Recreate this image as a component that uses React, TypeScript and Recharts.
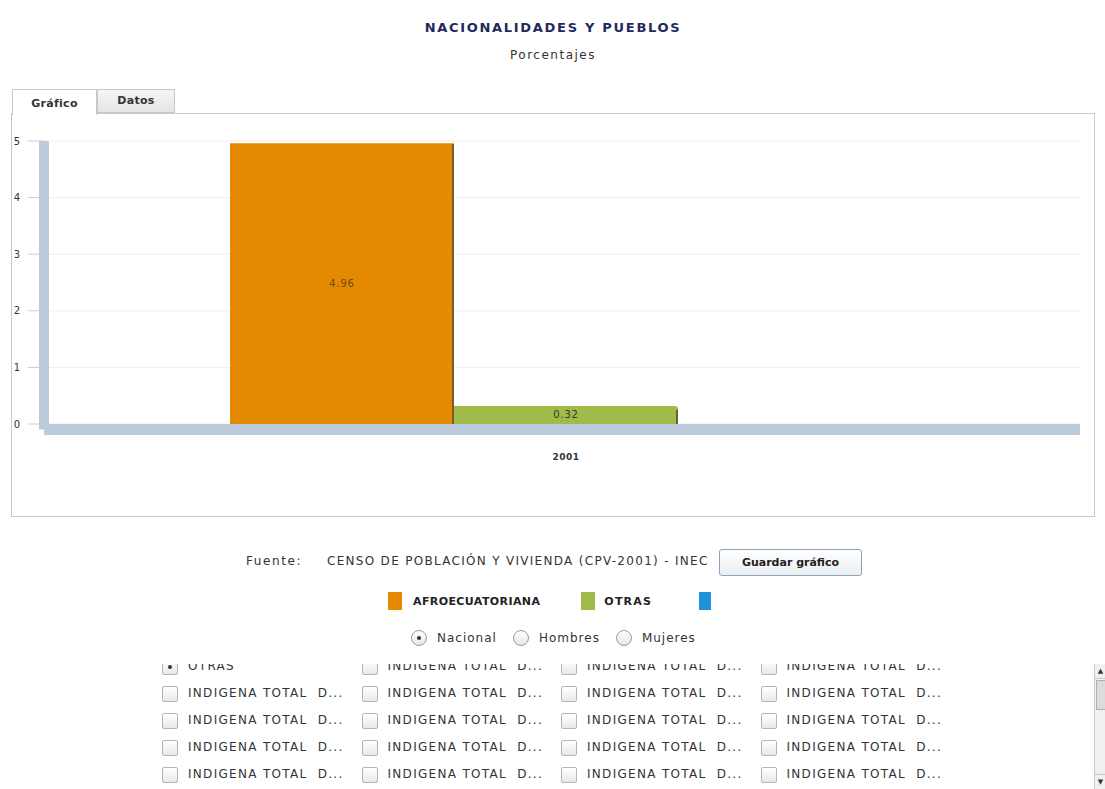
import React from 'react';
import { BarChart, Bar, XAxis, YAxis, CartesianGrid, LabelList } from 'recharts';

const categories = ['2001'];
const afroValues = [4.96];
const otrasValues = [0.32];
const terceraValues = [0];
const yTicks = [0, 1, 2, 3, 4, 5];

const seriesNames = ['AFROECUATORIANA', 'OTRAS', ''];
const seriesColors = ['#e38a00', '#a0bb48', '#1f90dc'];
const seriesEdges = ['#7d5a2a', '#5d6b30', '#1a5f90'];

const checkRows = [
  ['OTRAS', 'INDIGENA TOTAL  D...', 'INDIGENA TOTAL  D...', 'INDIGENA TOTAL  D...'],
  ['INDIGENA TOTAL  D...', 'INDIGENA TOTAL  D...', 'INDIGENA TOTAL  D...', 'INDIGENA TOTAL  D...'],
  ['INDIGENA TOTAL  D...', 'INDIGENA TOTAL  D...', 'INDIGENA TOTAL  D...', 'INDIGENA TOTAL  D...'],
  ['INDIGENA TOTAL  D...', 'INDIGENA TOTAL  D...', 'INDIGENA TOTAL  D...', 'INDIGENA TOTAL  D...'],
  ['INDIGENA TOTAL  D...', 'INDIGENA TOTAL  D...', 'INDIGENA TOTAL  D...', 'INDIGENA TOTAL  D...'],
];
const radioOptions = ['Nacional', 'Hombres', 'Mujeres'];

const data = categories.map((year, i) => ({
  year,
  afro: afroValues[i],
  otras: otrasValues[i],
  tercera: terceraValues[i],
}));

const font = '"DejaVu Sans", Verdana, sans-serif';

const makeShape = (edge: string, rounded: boolean) => (props: any) => {
  const { x, y, width, height, fill } = props;
  if (!height || height <= 0) return <g />;
  const r = rounded ? 3 : 0;
  const d = `M${x},${y} H${x + width - r} Q${x + width},${y} ${x + width},${y + r} V${y + height} H${x} Z`;
  return (
    <g>
      <path d={d} fill={fill} />
      <rect x={x + width - 2} y={y + r + 1} width={2} height={height - r - 1} fill={edge} />
    </g>
  );
};

const fmt = (v: any) => Number(v).toFixed(2);

const Checkbox = ({ checked }: { checked?: boolean }) => (
  <span style={{
    display: 'inline-block', width: 14, height: 14, border: '1px solid #b5b5b5', borderRadius: 2,
    background: 'linear-gradient(#ffffff, #e8e8e8)', position: 'relative', verticalAlign: 'middle',
  }}>
    {checked && <span style={{ position: 'absolute', left: 5, top: 5, width: 4, height: 4, background: '#333', borderRadius: 2 }} />}
  </span>
);

const Radio = ({ checked }: { checked?: boolean }) => (
  <span style={{
    display: 'inline-block', width: 14, height: 14, border: '1px solid #9a9a9a', borderRadius: 8,
    background: 'linear-gradient(#ffffff, #e6e6e6)', position: 'relative', verticalAlign: 'middle',
  }}>
    {checked && <span style={{ position: 'absolute', left: 5, top: 5, width: 4, height: 4, background: '#333', borderRadius: 2 }} />}
  </span>
);

export default function App() {
  const dataKeys = ['afro', 'otras', 'tercera'];
  return (
    <div style={{ position: 'absolute', left: 0, top: 0, width: 1105, height: 789, background: '#fff', fontFamily: font, color: '#333', overflow: 'hidden' }}>
      <div style={{ position: 'absolute', left: 0, top: 20, width: 1106, textAlign: 'center', fontSize: 13, fontWeight: 'bold', color: '#1e2a5c', letterSpacing: 1.7 }}>
        NACIONALIDADES Y PUEBLOS
      </div>
      <div style={{ position: 'absolute', left: 0, top: 48, width: 1106, textAlign: 'center', fontSize: 12, letterSpacing: 1.5 }}>
        Porcentajes
      </div>

      {/* tabs */}
      <div style={{ position: 'absolute', left: 12, top: 89, width: 83, height: 25, border: '1px solid #c8c8c8', borderBottom: 'none', background: '#fff', zIndex: 2, fontSize: 11, fontWeight: 'bold', textAlign: 'center', lineHeight: '27px', letterSpacing: 0.3 }}>
        Gráfico
      </div>
      <div style={{ position: 'absolute', left: 97, top: 89, width: 76, height: 22, border: '1px solid #c8c8c8', background: 'linear-gradient(#f6f6f6, #e4e4e4)', fontSize: 11, fontWeight: 'bold', textAlign: 'center', lineHeight: '22px', letterSpacing: 0.3 }}>
        Datos
      </div>
      <div style={{ position: 'absolute', left: 11, top: 113, width: 1082, height: 402, border: '1px solid #c8c8c8', background: '#fff' }} />

      <div style={{ position: 'absolute', left: 0, top: 100 }}>
        <BarChart width={1100} height={400} data={data} margin={{ top: 41, right: 20, left: 10, bottom: 30.5 }} barCategoryGap={178} barGap={0}>
          <CartesianGrid vertical={false} stroke="#eeeeee" />
          <XAxis
            dataKey="year"
            axisLine={{ stroke: '#bccbdc', strokeWidth: 11 }}
            tickLine={false}
            tickSize={0}
            tickMargin={24}
            height={40}
            padding={{ left: 8, right: 0 }}
            tick={{ fontSize: 9, fill: '#333', fontFamily: font, fontWeight: 'bold', letterSpacing: 0.5 }}
          />
          <YAxis
            type="number"
            domain={[0, 5]}
            ticks={yTicks}
            width={34}
            axisLine={{ stroke: '#bccbdc', strokeWidth: 10 }}
            tickLine={{ stroke: '#cccccc' }}
            tickSize={16}
            tickMargin={8}
            padding={{ top: 0, bottom: 5.5 }}
            tick={{ fontSize: 10, fill: '#333', fontFamily: font }}
          />
          {dataKeys.map((k, i) => (
            <Bar key={k} dataKey={k} name={seriesNames[i]} fill={seriesColors[i]} shape={makeShape(seriesEdges[i], i === 1)} isAnimationActive={false}>
              {i < 2 && (
                <LabelList dataKey={k} position="center" formatter={fmt} style={{ fontSize: 10, fontFamily: font, fill: i === 0 ? '#6b4a12' : '#333', letterSpacing: 0.8 }} />
              )}
            </Bar>
          ))}
        </BarChart>
      </div>

      {/* source row */}
      <div style={{ position: 'absolute', left: 246, top: 554, fontSize: 12, letterSpacing: 1.6 }}>Fuente:</div>
      <div style={{ position: 'absolute', left: 327, top: 554, fontSize: 12, letterSpacing: 1.3, whiteSpace: 'nowrap' }}>CENSO DE POBLACIÓN Y VIVIENDA (CPV-2001) - INEC</div>
      <div style={{ position: 'absolute', left: 719, top: 549, width: 141, height: 25, border: '1px solid #8aa4c0', borderRadius: 3, background: 'linear-gradient(#ffffff, #eceef0)', fontSize: 11, fontWeight: 'bold', textAlign: 'center', lineHeight: '25px', color: '#222' }}>
        Guardar gráfico
      </div>

      {/* legend */}
      <div style={{ position: 'absolute', left: 388, top: 592, display: 'flex', alignItems: 'center' }}>
        {seriesNames.map((n, i) => (
          <div key={i} style={{ display: 'flex', alignItems: 'center', marginRight: i === 0 ? 41 : 47 }}>
            <span style={{ display: 'inline-block', width: i === 2 ? 12 : 14, height: 18, background: seriesColors[i] }} />
            {n && <span style={{ marginLeft: i === 0 ? 11 : 9, fontSize: 11, fontWeight: 'bold', letterSpacing: i === 0 ? 0.4 : 1.2, color: '#222' }}>{n}</span>}
          </div>
        ))}
      </div>

      {/* radios */}
      <div style={{ position: 'absolute', left: 411, top: 630, display: 'flex', alignItems: 'center', fontSize: 12, letterSpacing: 1 }}>
        {radioOptions.map((r, i) => (
          <span key={r} style={{ display: 'inline-flex', alignItems: 'center', marginRight: 16 }}>
            <Radio checked={i === 0} />
            <span style={{ marginLeft: 10 }}>{r}</span>
          </span>
        ))}
      </div>

      {/* checkbox list */}
      <div style={{ position: 'absolute', left: 150, top: 664, width: 900, height: 125, overflow: 'hidden' }}>
        <div style={{ position: 'absolute', left: 0, top: -12 }}>
          {checkRows.map((row, r) => (
            <div key={r} style={{ display: 'flex', height: 27, alignItems: 'center' }}>
              {row.map((label, c) => (
                <div key={c} style={{ width: 199.5, display: 'flex', alignItems: 'center' }}>
                  <span style={{ marginLeft: 12 }}><Checkbox checked={r === 0 && c === 0} /></span>
                  <span style={{ marginLeft: 10, fontSize: 12, letterSpacing: 1.3, whiteSpace: 'pre' }}>{label}</span>
                </div>
              ))}
            </div>
          ))}
        </div>
      </div>

      {/* scrollbar */}
      <div style={{ position: 'absolute', left: 1094, top: 664, width: 11, height: 125, background: '#f0f0f0', borderLeft: '1px solid #c8c8c8' }}>
        <div style={{ height: 14, borderBottom: '1px solid #c8c8c8', fontSize: 7, textAlign: 'center', lineHeight: '14px' }}>▲</div>
        <div style={{ position: 'absolute', top: 16, left: 1, width: 9, height: 28, background: '#dcdcdc', border: '1px solid #b0b0b0' }} />
        <div style={{ position: 'absolute', bottom: 0, width: 11, height: 14, borderTop: '1px solid #c8c8c8', fontSize: 7, textAlign: 'center', lineHeight: '14px' }}>▼</div>
      </div>
    </div>
  );
}
